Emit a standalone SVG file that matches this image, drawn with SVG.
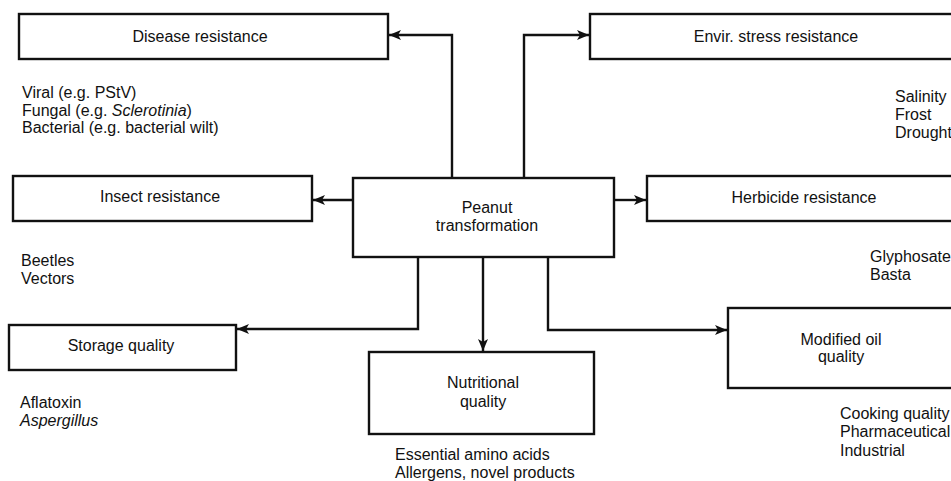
<svg xmlns="http://www.w3.org/2000/svg" width="951" height="481" viewBox="0 0 951 481">
<style>
.box{fill:#fff;stroke:#111;stroke-width:2.4}
.t{font-family:"Liberation Sans",Arial,sans-serif;font-size:16px;fill:#111}
.c{text-anchor:middle}
.i{font-style:italic}
.ln{fill:none;stroke:#111;stroke-width:2.4}
</style>
<defs>
<marker id="ah" markerUnits="userSpaceOnUse" markerWidth="13" markerHeight="11" refX="12" refY="5.5" orient="auto">
<path d="M0,0.5 L12,5.5 L0,10.5 L3,5.5 Z" fill="#111"/>
</marker>
</defs>
<rect width="951" height="481" fill="#fff"/>
<g id="connectors">
<path class="ln" d="M452,178 V35 H389" marker-end="url(#ah)"/>
<path class="ln" d="M524,178 V35 H589" marker-end="url(#ah)"/>
<path class="ln" d="M353,200 H313" marker-end="url(#ah)"/>
<path class="ln" d="M614,200 H646" marker-end="url(#ah)"/>
<path class="ln" d="M418,257 V329 H237" marker-end="url(#ah)"/>
<path class="ln" d="M483,257 V351" marker-end="url(#ah)"/>
<path class="ln" d="M548,257 V330 H727" marker-end="url(#ah)"/>
</g>
<g id="center">
<rect class="box" x="353" y="178" width="261" height="79"/>
<text class="t c" x="487" y="213">Peanut</text>
<text class="t c" x="487" y="231">transformation</text>
</g>
<g id="disease">
<rect class="box" x="19" y="14" width="369" height="45"/>
<text class="t c" x="200" y="42">Disease resistance</text>
<text class="t" x="22" y="98">Viral (e.g. PStV)</text>
<text class="t" x="22" y="116">Fungal (e.g. <tspan class="i">Sclerotinia</tspan>)</text>
<text class="t" x="22" y="133">Bacterial (e.g. bacterial wilt)</text>
</g>
<g id="envir">
<rect class="box" x="590" y="14" width="370" height="45"/>
<text class="t c" x="776" y="42">Envir. stress resistance</text>
<text class="t" x="895" y="102">Salinity</text>
<text class="t" x="895" y="120">Frost</text>
<text class="t" x="895" y="138">Drought</text>
</g>
<g id="insect">
<rect class="box" x="13" y="176" width="299" height="45"/>
<text class="t c" x="160" y="202">Insect resistance</text>
<text class="t" x="21" y="266">Beetles</text>
<text class="t" x="21" y="284">Vectors</text>
</g>
<g id="herbicide">
<rect class="box" x="647" y="176" width="313" height="45"/>
<text class="t c" x="804" y="203">Herbicide resistance</text>
<text class="t" x="870" y="262">Glyphosate</text>
<text class="t" x="870" y="280">Basta</text>
</g>
<g id="storage">
<rect class="box" x="9" y="325" width="227" height="45"/>
<text class="t c" x="121" y="351">Storage quality</text>
<text class="t" x="20" y="408">Aflatoxin</text>
<text class="t i" x="20" y="426">Aspergillus</text>
</g>
<g id="nutritional">
<rect class="box" x="369" y="352" width="225" height="82"/>
<text class="t c" x="483" y="388">Nutritional</text>
<text class="t c" x="483" y="407">quality</text>
<text class="t" x="395" y="460">Essential amino acids</text>
<text class="t" x="395" y="478">Allergens, novel products</text>
</g>
<g id="oil">
<rect class="box" x="728" y="308" width="232" height="80"/>
<text class="t c" x="841" y="345">Modified oil</text>
<text class="t c" x="841" y="362">quality</text>
<text class="t" x="840" y="419">Cooking quality</text>
<text class="t" x="840" y="437">Pharmaceutical</text>
<text class="t" x="840" y="456">Industrial</text>
</g>
</svg>
